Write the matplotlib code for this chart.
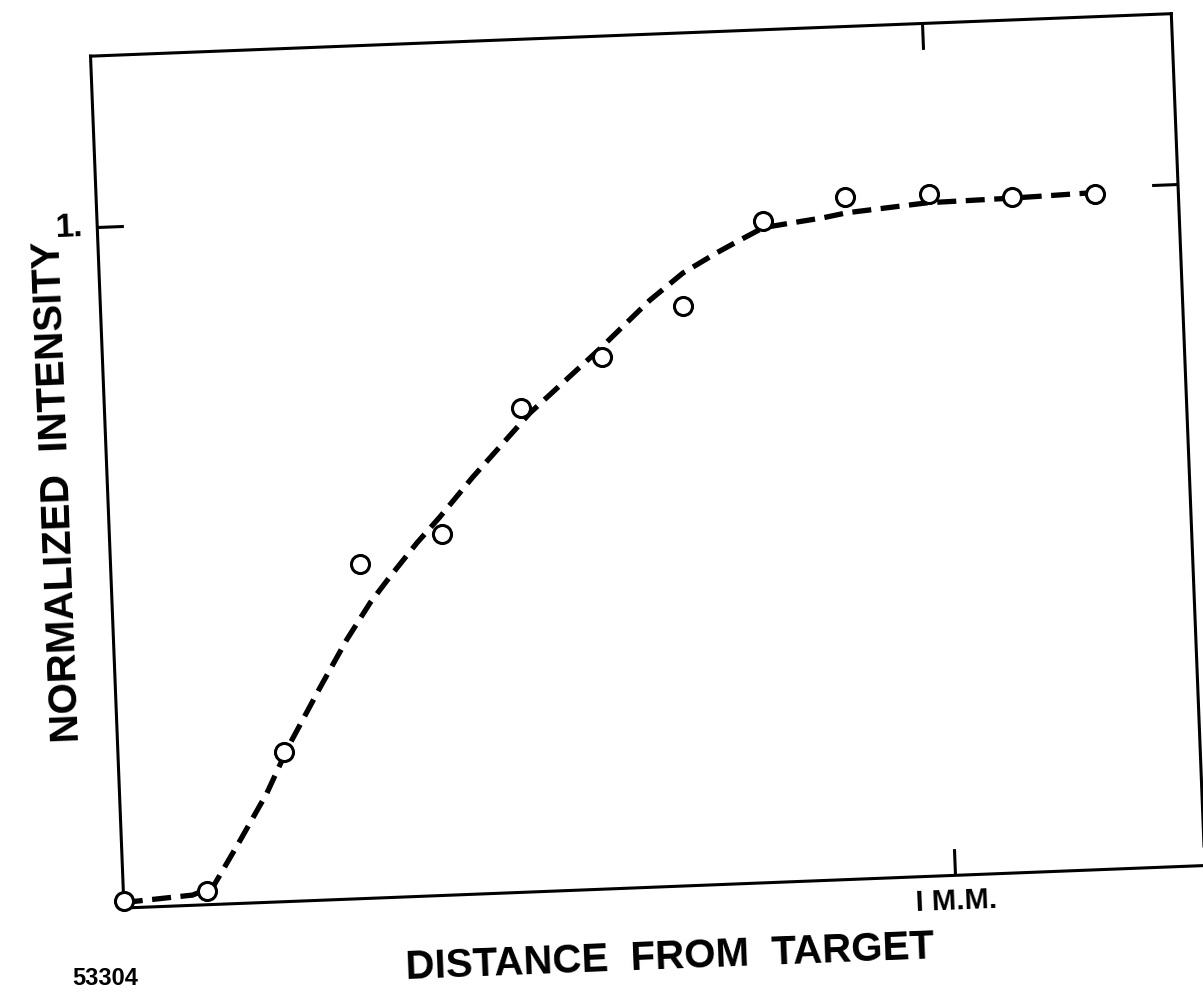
import matplotlib
matplotlib.use("Agg")
import matplotlib.pyplot as plt
from matplotlib.transforms import Affine2D
import mpl_toolkits.axisartist.floating_axes as floating_axes
from mpl_toolkits.axisartist.grid_finder import FixedLocator, DictFormatter

# measured points: distance from target (mm) vs normalized intensity
dist_mm = [0.0, 0.1, 0.2, 0.3, 0.4, 0.5, 0.6, 0.7, 0.8, 0.9, 1.0, 1.1, 1.2]
intensity = [0.01, 0.02, 0.22, 0.49, 0.53, 0.71, 0.78, 0.85, 0.97, 1.00, 1.00, 0.99, 0.99]

# hand drawn dashed curve
curve_x = [0.0, 0.083, 0.108, 0.143, 0.177, 0.205, 0.246, 0.280, 0.310, 0.335,
           0.369, 0.398, 0.439, 0.511, 0.598, 0.660, 0.701, 0.743, 0.771, 0.800,
           0.832, 0.872, 0.901, 0.998, 1.101, 1.19]
curve_y = [0.008, 0.015, 0.026, 0.093, 0.160, 0.227, 0.312, 0.380, 0.433, 0.470,
           0.518, 0.555, 0.611, 0.702, 0.792, 0.860, 0.898, 0.926, 0.943, 0.960,
           0.965, 0.971, 0.977, 0.987, 0.989, 0.992]

x_ticks = {1.0: "I M.M."}
y_ticks = {1.0: "1."}
x_range = (0, 1.30)
y_range = (0, 1.25)

# the scan is a bit tilted, so the whole frame is rotated
W, H = 1203, 993
tilt = 2.25
px_mm, px_unit = 832, 682
origin = (124, H - 908)

tr = Affine2D().scale(px_mm, px_unit).rotate_deg(tilt)
gh = floating_axes.GridHelperCurveLinear(
    tr, extremes=(*x_range, *y_range),
    grid_locator1=FixedLocator(list(x_ticks)), tick_formatter1=DictFormatter(x_ticks),
    grid_locator2=FixedLocator(list(y_ticks)), tick_formatter2=DictFormatter(y_ticks))

corners = tr.transform([[x_range[0], y_range[0]], [x_range[1], y_range[0]],
                        [x_range[0], y_range[1]], [x_range[1], y_range[1]]])
xmin, ymin = corners.min(axis=0)
xmax, ymax = corners.max(axis=0)
bw, bh = xmax - xmin, ymax - ymin
# floating axes pad their limits by 2 %
rect = [(origin[0] + xmin - 0.01 * bw) / W, (origin[1] + ymin - 0.01 * bh) / H,
        1.02 * bw / W, 1.02 * bh / H]

fig = plt.figure(figsize=(W / 100, H / 100), dpi=100)
ax = fig.add_axes(rect, axes_class=floating_axes.FloatingAxes, grid_helper=gh)

for side in ["left", "right", "top", "bottom"]:
    a = ax.axis[side]
    a.line.set_linewidth(2.2)
    a.major_ticks.set_ticksize(19)
    a.major_ticks.set_markeredgewidth(2.2)
    a.major_ticks.set_tick_out(False)
    a.label.set_visible(False)

ax.axis["top"].major_ticklabels.set_visible(False)
ax.axis["right"].major_ticklabels.set_visible(False)
for side in ["left", "bottom"]:
    lab = ax.axis[side].major_ticklabels
    lab.set_visible(True)
    lab.set_fontfamily("Liberation Sans")
    lab.set_fontweight("bold")
    lab.set_pad(10)
ax.axis["left"].major_ticklabels.set_fontsize(24)
ax.axis["bottom"].major_ticklabels.set_fontsize(21)

aux = ax.get_aux_axes(tr)
aux.plot(curve_x, curve_y, color="black", lw=3.8, dashes=(3.6, 1.8), clip_on=False)
aux.plot(dist_mm, intensity, "o", ms=13, mfc="white", mec="black", mew=2.2,
         clip_on=False, zorder=3)

font = dict(family="Liberation Sans", fontweight="bold", color="black")
fig.text(58 / W, 1 - 492 / H, "NORMALIZED  INTENSITY", rotation=90 + tilt,
         ha="center", va="center", rotation_mode="anchor", fontsize=29, **font)
fig.text(670 / W, 1 - 958 / H, "DISTANCE  FROM  TARGET", rotation=tilt,
         ha="center", va="center", rotation_mode="anchor", fontsize=29, **font)
# plate number, bottom left corner
fig.text(72 / W, 3 / H, "53304", ha="left", va="bottom", fontsize=17, **font)

fig.savefig("out.png", dpi=100, facecolor="white")
